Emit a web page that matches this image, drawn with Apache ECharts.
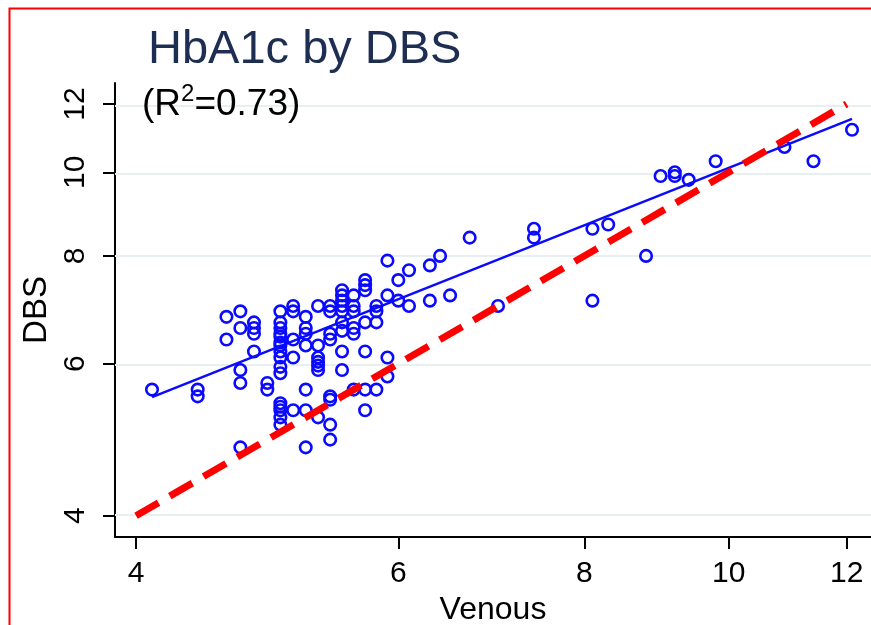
<!DOCTYPE html>
<html>
<head>
<meta charset="utf-8">
<script src="https://cdn.jsdelivr.net/npm/echarts@6/dist/echarts.min.js"></script>
<style>
  html, body { margin: 0; padding: 0; background: #fff; }
  #chart { width: 871px; height: 625px; }
</style>
</head>
<body>
<div id="chart"></div>
<script>
// ---- data ----
const venous = [
  4.1,
  4.4, 4.4,
  4.6, 4.6,
  4.7, 4.7, 4.7, 4.7, 4.7,
  4.8, 4.8, 4.8, 4.8,
  4.9, 4.9,
  5.0, 5.0, 5.0, 5.0, 5.0, 5.0, 5.0, 5.0, 5.0, 5.0, 5.0, 5.0, 5.0, 5.0, 5.0, 5.0,
  5.1, 5.1, 5.1, 5.1, 5.1,
  5.2, 5.2, 5.2, 5.2, 5.2, 5.2, 5.2,
  5.3, 5.3, 5.3, 5.3, 5.3, 5.3, 5.3,
  5.4, 5.4, 5.4, 5.4, 5.4, 5.4, 5.4, 5.4,
  5.5, 5.5, 5.5, 5.5, 5.5, 5.5, 5.5, 5.5, 5.5,
  5.6, 5.6, 5.6, 5.6, 5.6, 5.6,
  5.7, 5.7, 5.7, 5.7, 5.7, 5.7, 5.7,
  5.8, 5.8, 5.8, 5.8,
  5.9, 5.9, 5.9, 5.9,
  6.0, 6.0,
  6.1, 6.1,
  6.3, 6.3,
  6.4,
  6.5,
  6.7,
  7.0,
  7.4, 7.4,
  8.1, 8.1,
  8.3,
  8.8,
  9.0,
  9.2, 9.2,
  9.4,
  9.8,
  10.9,
  11.4,
  12.1
];
const dbs = [
  5.6,
  5.6, 5.5,
  6.8, 6.4,
  6.9, 6.6, 5.9, 5.7, 4.8,
  6.7, 6.6, 6.5, 6.2,
  5.7, 5.6,
  6.9, 6.7, 6.6, 6.5, 6.45, 6.35, 6.3, 6.2, 6.1, 5.95, 5.85, 5.4, 5.35, 5.3, 5.2, 5.1,
  7.0, 6.9, 6.4, 6.1, 5.3,
  6.8, 6.6, 6.5, 6.3, 5.6, 5.3, 4.8,
  7.0, 6.3, 6.1, 6.03, 5.97, 5.9, 5.2,
  7.0, 6.9, 6.5, 6.4, 5.5, 5.45, 5.1, 4.9,
  7.3, 7.2, 7.1, 7.0, 6.9, 6.7, 6.55, 6.2, 5.9,
  7.2, 7.0, 6.9, 6.6, 6.5, 5.6,
  7.5, 7.4, 7.3, 6.7, 6.2, 5.6, 5.3,
  7.0, 6.9, 6.7, 5.6,
  7.9, 7.2, 6.1, 5.8,
  7.5, 7.1,
  7.7, 7.0,
  7.8, 7.1,
  8.0,
  7.2,
  8.4,
  7.0,
  8.6, 8.4,
  8.6, 7.1,
  8.7,
  8.0,
  9.9,
  10.0, 9.9,
  9.8,
  10.3,
  10.7,
  10.3,
  11.2
];
// fitted regression line (log-log) end points
const fitVenous = [4.1, 12.1];
const fitDbs = [5.49, 11.53];
// line of identity
const refVenous = [4, 12];
const refDbs = [4, 12];
// tick labels
const xTicks = [4, 6, 8, 10, 12];
const yTicks = [4, 6, 8, 10, 12];
const titleText = 'HbA1c by DBS';
const r2Text = '0.73';

// ---- chart ----
const L = Math.log;
const pts = venous.map((v, i) => [L(v), L(dbs[i])]);
const fitPts = fitVenous.map((v, i) => [L(v), L(fitDbs[i])]);
const refPts = refVenous.map((v, i) => [L(v), L(refDbs[i])]);
const fmt = v => String(Math.round(Math.exp(v)));
const FONT = 'Liberation Sans, Arial, sans-serif';

const chart = echarts.init(document.getElementById('chart'), null, { renderer: 'canvas' });
chart.setOption({
  animation: false,
  backgroundColor: '#ffffff',
  textStyle: { fontFamily: FONT },
  title: [
    {
      text: titleText, left: 148, top: 27, padding: 0,
      textStyle: { fontFamily: FONT, fontSize: 47, fontWeight: 'normal', color: '#1e2d52' }
    },
    {
      text: '(R{s|2}=' + r2Text + ')', left: 142, top: 82, padding: 0,
      textStyle: {
        fontFamily: FONT, fontSize: 37, lineHeight: 46, fontWeight: 'normal', color: '#000',
        rich: { s: { fontFamily: FONT, fontSize: 24, color: '#000', verticalAlign: 'top' } }
      }
    }
  ],
  graphic: [
    {
      type: 'rect', left: 7, top: 6, silent: true,
      shape: { width: 900, height: 700 },
      style: { fill: 'none', stroke: '#ff0000', lineWidth: 2 }
    }
  ],
  grid: { left: 115, right: 0, top: 83, bottom: 88, containLabel: false, outerBoundsMode: 'none' },
  xAxis: {
    type: 'value',
    min: L(3.872), max: L(12.46),
    name: 'Venous', nameLocation: 'middle', nameGap: 52,
    nameTextStyle: { fontFamily: FONT, fontSize: 32, color: '#000' },
    axisLine: { show: true, onZero: false, lineStyle: { color: '#000', width: 2 } },
    axisTick: { show: true, length: 12, lineStyle: { color: '#000', width: 2 }, customValues: xTicks.map(L) },
    axisLabel: { show: true, margin: 22, fontFamily: FONT, fontSize: 30, color: '#000', formatter: fmt, customValues: xTicks.map(L) },
    splitLine: { show: false }
  },
  yAxis: {
    type: 'value',
    min: L(3.779), max: L(12.69),
    name: 'DBS', nameLocation: 'middle', nameGap: 62,
    nameTextStyle: { fontFamily: FONT, fontSize: 33, color: '#000' },
    axisLine: { show: true, onZero: false, lineStyle: { color: '#000', width: 2 } },
    axisTick: { show: true, length: 12, lineStyle: { color: '#000', width: 2 }, customValues: yTicks.map(L) },
    axisLabel: { show: true, rotate: 90, margin: 24, fontFamily: FONT, fontSize: 30, color: '#000', formatter: fmt, customValues: yTicks.map(L) },
    splitLine: { show: false }
  },
  series: [
    {
      name: 'grid', type: 'line', data: [], z: 1, silent: true,
      markLine: {
        z: 1, silent: true, symbol: ['none', 'none'], animation: false,
        label: { show: false },
        lineStyle: { color: '#e8eff1', width: 2, type: 'solid', opacity: 1 },
        emphasis: { disabled: true },
        data: yTicks.map(v => ({ yAxis: L(v) }))
      }
    },
    {
      name: 'points', type: 'scatter', data: pts, z: 3,
      symbol: 'circle', symbolSize: 11.5,
      itemStyle: { color: 'rgba(0,0,0,0)', borderColor: '#0a0aff', borderWidth: 2.6, opacity: 1 }
    },
    {
      name: 'fit', type: 'line', data: fitPts, z: 4,
      showSymbol: false, symbol: 'none',
      lineStyle: { color: '#0a0aff', width: 2.4 }
    },
    {
      name: 'identity', type: 'line', data: refPts, z: 5,
      showSymbol: false, symbol: 'none',
      lineStyle: { color: '#ff0000', width: 7, type: [26, 13], cap: 'butt' }
    }
  ]
});
</script>
</body>
</html>
